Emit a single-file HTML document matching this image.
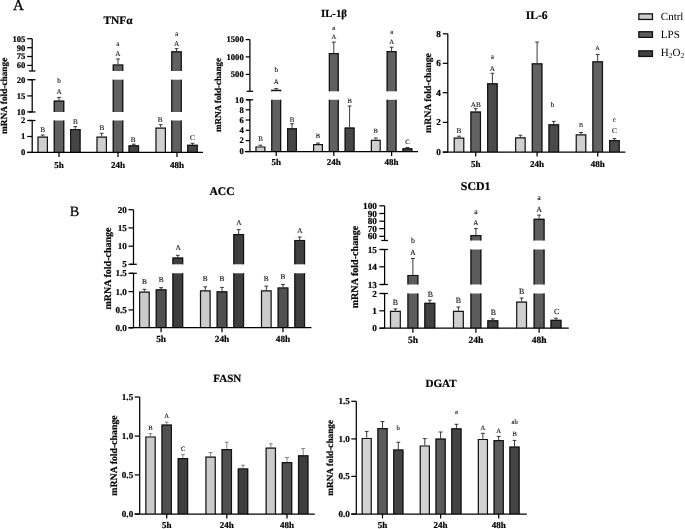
<!DOCTYPE html>
<html lang="en"><head><meta charset="utf-8"><title>Figure</title>
<style>
html,body{margin:0;padding:0;background:#fff;}
body{width:685px;height:529px;overflow:hidden;}
svg{display:block;}
svg text{font-family:"Liberation Serif", "DejaVu Serif", serif;text-rendering:geometricPrecision;}
svg text.l{fill:#111;stroke:#111;stroke-width:0.12px;}
svg text.b{font-weight:bold;stroke:#000;stroke-width:0.2px;}
</style></head><body>
<svg width="685" height="529" viewBox="0 0 685 529">
<rect width="685" height="529" fill="#fff"/>
<g>
<text x="118" y="24.1" font-size="11.4" class="b" text-anchor="middle">TNFα</text>
<path d="M42.7 136.5V135M40.8 135H44.6" stroke="#222" stroke-width="0.9" fill="none"/>
<rect x="37.4" y="136.5" width="10.6" height="15.9" fill="#cfcfcf"/>
<path d="M38 152.4V136.5M47.4 152.4V136.5M37.4 137.1H48" stroke="#141414" stroke-width="1.2" fill="none"/>
<path d="M59 100.6V97.4M57.1 97.4H60.9" stroke="#222" stroke-width="0.9" fill="none"/>
<rect x="53.7" y="100.6" width="10.6" height="11.4" fill="#606060"/>
<path d="M54.3 112V100.6M63.7 112V100.6M53.7 101.2H64.3" stroke="#141414" stroke-width="1.2" fill="none"/>
<rect x="53.7" y="120.5" width="10.6" height="31.9" fill="#606060"/>
<path d="M54.3 152.4V120.5M63.7 152.4V120.5" stroke="#141414" stroke-width="1.2" fill="none"/>
<path d="M75.3 129V126.6M73.4 126.6H77.2" stroke="#222" stroke-width="0.9" fill="none"/>
<rect x="70" y="129" width="10.6" height="23.4" fill="#454545"/>
<path d="M70.6 152.4V129M80 152.4V129M70 129.6H80.6" stroke="#141414" stroke-width="1.2" fill="none"/>
<path d="M101.7 136.6V133.3M99.8 133.3H103.6" stroke="#222" stroke-width="0.9" fill="none"/>
<rect x="96.4" y="136.6" width="10.6" height="15.8" fill="#cfcfcf"/>
<path d="M97 152.4V136.6M106.4 152.4V136.6M96.4 137.2H107" stroke="#141414" stroke-width="1.2" fill="none"/>
<path d="M118 64.4V59M116.1 59H119.9" stroke="#222" stroke-width="0.9" fill="none"/>
<rect x="112.7" y="64.4" width="10.6" height="6.6" fill="#606060"/>
<path d="M113.3 71V64.4M122.7 71V64.4M112.7 65H123.3" stroke="#141414" stroke-width="1.2" fill="none"/>
<rect x="112.7" y="79.7" width="10.6" height="32.3" fill="#606060"/>
<path d="M113.3 112V79.7M122.7 112V79.7" stroke="#141414" stroke-width="1.2" fill="none"/>
<rect x="112.7" y="120.5" width="10.6" height="31.9" fill="#606060"/>
<path d="M113.3 152.4V120.5M122.7 152.4V120.5" stroke="#141414" stroke-width="1.2" fill="none"/>
<path d="M133.8 145.3V144.2M131.9 144.2H135.7" stroke="#222" stroke-width="0.9" fill="none"/>
<rect x="128.5" y="145.3" width="10.6" height="7.1" fill="#454545"/>
<path d="M129.1 152.4V145.3M138.5 152.4V145.3M128.5 145.9H139.1" stroke="#141414" stroke-width="1.2" fill="none"/>
<path d="M160.7 127.6V124.6M158.8 124.6H162.6" stroke="#222" stroke-width="0.9" fill="none"/>
<rect x="155.4" y="127.6" width="10.6" height="24.8" fill="#cfcfcf"/>
<path d="M156 152.4V127.6M165.4 152.4V127.6M155.4 128.2H166" stroke="#141414" stroke-width="1.2" fill="none"/>
<path d="M176.5 51.2V48.7M174.6 48.7H178.4" stroke="#222" stroke-width="0.9" fill="none"/>
<rect x="171.2" y="51.2" width="10.6" height="19.8" fill="#606060"/>
<path d="M171.8 71V51.2M181.2 71V51.2M171.2 51.8H181.8" stroke="#141414" stroke-width="1.2" fill="none"/>
<rect x="171.2" y="79.7" width="10.6" height="32.3" fill="#606060"/>
<path d="M171.8 112V79.7M181.2 112V79.7" stroke="#141414" stroke-width="1.2" fill="none"/>
<rect x="171.2" y="120.5" width="10.6" height="31.9" fill="#606060"/>
<path d="M171.8 152.4V120.5M181.2 152.4V120.5" stroke="#141414" stroke-width="1.2" fill="none"/>
<path d="M192.5 144.8V143.3M190.6 143.3H194.4" stroke="#222" stroke-width="0.9" fill="none"/>
<rect x="187.2" y="144.8" width="10.6" height="7.6" fill="#454545"/>
<path d="M187.8 152.4V144.8M197.2 152.4V144.8M187.2 145.4H197.8" stroke="#141414" stroke-width="1.2" fill="none"/>
<path d="M32.2 38.7V71" stroke="#000" stroke-width="1.25" fill="none"/>
<path d="M28.9 71H35.5" stroke="#000" stroke-width="1.25"/>
<path d="M32.2 79.7V112" stroke="#000" stroke-width="1.25" fill="none"/>
<path d="M28.9 112H35.5" stroke="#000" stroke-width="1.25"/>
<path d="M28.9 79.7H35.5" stroke="#000" stroke-width="1.25"/>
<path d="M32.2 120.5V152.4" stroke="#000" stroke-width="1.25" fill="none"/>
<path d="M28.9 120.5H35.5" stroke="#000" stroke-width="1.25"/>
<path d="M27.2 38.7H32.2" stroke="#000" stroke-width="1.25"/>
<text x="25.4" y="41.54" font-size="8.6" class="b" text-anchor="end">105</text>
<path d="M27.2 47.7H32.2" stroke="#000" stroke-width="1.25"/>
<text x="25.4" y="50.54" font-size="8.6" class="b" text-anchor="end">90</text>
<path d="M27.2 56.5H32.2" stroke="#000" stroke-width="1.25"/>
<text x="25.4" y="59.34" font-size="8.6" class="b" text-anchor="end">75</text>
<path d="M27.2 65.4H32.2" stroke="#000" stroke-width="1.25"/>
<text x="25.4" y="68.24" font-size="8.6" class="b" text-anchor="end">60</text>
<path d="M27.2 79.7H32.2" stroke="#000" stroke-width="1.25"/>
<text x="25.4" y="82.54" font-size="8.6" class="b" text-anchor="end">20</text>
<path d="M27.2 95.9H32.2" stroke="#000" stroke-width="1.25"/>
<text x="25.4" y="98.74" font-size="8.6" class="b" text-anchor="end">15</text>
<path d="M27.2 111.9H32.2" stroke="#000" stroke-width="1.25"/>
<text x="25.4" y="114.74" font-size="8.6" class="b" text-anchor="end">10</text>
<path d="M27.2 120.5H32.2" stroke="#000" stroke-width="1.25"/>
<text x="25.4" y="123.34" font-size="8.6" class="b" text-anchor="end">2</text>
<path d="M27.2 136.5H32.2" stroke="#000" stroke-width="1.25"/>
<text x="25.4" y="139.34" font-size="8.6" class="b" text-anchor="end">1</text>
<path d="M27.2 152.4H32.2" stroke="#000" stroke-width="1.25"/>
<text x="25.4" y="155.24" font-size="8.6" class="b" text-anchor="end">0</text>
<path d="M27.2 152.4H203" stroke="#000" stroke-width="1.25"/>
<path d="M59 152.4V156.9" stroke="#000" stroke-width="1.25"/>
<text x="59" y="167.8" font-size="9" class="b" text-anchor="middle">5h</text>
<path d="M118 152.4V156.9" stroke="#000" stroke-width="1.25"/>
<text x="118" y="167.8" font-size="9" class="b" text-anchor="middle">24h</text>
<path d="M177 152.4V156.9" stroke="#000" stroke-width="1.25"/>
<text x="177" y="167.8" font-size="9" class="b" text-anchor="middle">48h</text>
<text transform="translate(7.39 95.8) rotate(-90)" font-size="9.3" class="b" text-anchor="middle">mRNA fold-change</text>
<text x="42.7" y="132.4" font-size="7.2" text-anchor="middle" class="l">B</text>
<text x="59" y="93.8" font-size="7.2" text-anchor="middle" class="l">A</text>
<text x="59" y="82.8" font-size="7.2" text-anchor="middle" class="l">b</text>
<text x="75.5" y="124.4" font-size="7.2" text-anchor="middle" class="l">B</text>
<text x="101.8" y="129.5" font-size="7.2" text-anchor="middle" class="l">B</text>
<text x="117.8" y="56.4" font-size="7.2" text-anchor="middle" class="l">A</text>
<text x="117.8" y="45.8" font-size="7.2" text-anchor="middle" class="l">a</text>
<text x="133.2" y="141.6" font-size="7.2" text-anchor="middle" class="l">B</text>
<text x="160.1" y="121.6" font-size="7.2" text-anchor="middle" class="l">B</text>
<text x="176.6" y="46" font-size="7.2" text-anchor="middle" class="l">A</text>
<text x="176.6" y="36" font-size="7.2" text-anchor="middle" class="l">a</text>
<text x="192.5" y="140.4" font-size="7.2" text-anchor="middle" class="l">C</text>
</g>
<g>
<text x="334" y="17" font-size="10.8" class="b" text-anchor="middle">IL-1β</text>
<path d="M260.4 146.4V145.2M258.5 145.2H262.3" stroke="#222" stroke-width="0.9" fill="none"/>
<rect x="255.4" y="146.4" width="10" height="5.1" fill="#cfcfcf"/>
<path d="M256 151.5V146.4M264.8 151.5V146.4M255.4 147H265.4" stroke="#141414" stroke-width="1.2" fill="none"/>
<path d="M276.2 89.8V88.6M274.3 88.6H278.1" stroke="#222" stroke-width="0.9" fill="none"/>
<rect x="271.2" y="89.8" width="10" height="1.5" fill="#606060"/>
<path d="M271.8 91.3V89.8M280.6 91.3V89.8M271.2 90.4H281.2" stroke="#141414" stroke-width="1.2" fill="none"/>
<rect x="271.2" y="99.8" width="10" height="51.7" fill="#606060"/>
<path d="M271.8 151.5V99.8M280.6 151.5V99.8" stroke="#141414" stroke-width="1.2" fill="none"/>
<path d="M292 128.2V123.7M290.1 123.7H293.9" stroke="#222" stroke-width="0.9" fill="none"/>
<rect x="287" y="128.2" width="10" height="23.3" fill="#464646"/>
<path d="M287.6 151.5V128.2M296.4 151.5V128.2M287 128.8H297" stroke="#141414" stroke-width="1.2" fill="none"/>
<path d="M318 144.1V143.1M316.1 143.1H319.9" stroke="#222" stroke-width="0.9" fill="none"/>
<rect x="313" y="144.1" width="10" height="7.4" fill="#cfcfcf"/>
<path d="M313.6 151.5V144.1M322.4 151.5V144.1M313 144.7H323" stroke="#141414" stroke-width="1.2" fill="none"/>
<path d="M333.8 53V42.1M331.9 42.1H335.7" stroke="#222" stroke-width="0.9" fill="none"/>
<rect x="328.8" y="53" width="10" height="38.3" fill="#606060"/>
<path d="M329.4 91.3V53M338.2 91.3V53M328.8 53.6H338.8" stroke="#141414" stroke-width="1.2" fill="none"/>
<rect x="328.8" y="99.8" width="10" height="51.7" fill="#606060"/>
<path d="M329.4 151.5V99.8M338.2 151.5V99.8" stroke="#141414" stroke-width="1.2" fill="none"/>
<path d="M349.6 127.5V106M347.7 106H351.5" stroke="#222" stroke-width="0.9" fill="none"/>
<rect x="344.6" y="127.5" width="10" height="24" fill="#464646"/>
<path d="M345.2 151.5V127.5M354 151.5V127.5M344.6 128.1H354.6" stroke="#141414" stroke-width="1.2" fill="none"/>
<path d="M375.8 139.7V138M373.9 138H377.7" stroke="#222" stroke-width="0.9" fill="none"/>
<rect x="370.8" y="139.7" width="10" height="11.8" fill="#cfcfcf"/>
<path d="M371.4 151.5V139.7M380.2 151.5V139.7M370.8 140.3H380.8" stroke="#141414" stroke-width="1.2" fill="none"/>
<path d="M391.6 51V47.2M389.7 47.2H393.5" stroke="#222" stroke-width="0.9" fill="none"/>
<rect x="386.6" y="51" width="10" height="40.3" fill="#606060"/>
<path d="M387.2 91.3V51M396 91.3V51M386.6 51.6H396.6" stroke="#141414" stroke-width="1.2" fill="none"/>
<rect x="386.6" y="99.8" width="10" height="51.7" fill="#606060"/>
<path d="M387.2 151.5V99.8M396 151.5V99.8" stroke="#141414" stroke-width="1.2" fill="none"/>
<path d="M407.4 148.2V147.5M405.5 147.5H409.3" stroke="#222" stroke-width="0.9" fill="none"/>
<rect x="402.4" y="148.2" width="10" height="3.3" fill="#464646"/>
<path d="M403 151.5V148.2M411.8 151.5V148.2M402.4 148.8H412.4" stroke="#141414" stroke-width="1.2" fill="none"/>
<path d="M249.9 39.6V91.3" stroke="#000" stroke-width="1.25" fill="none"/>
<path d="M246.6 91.3H253.2" stroke="#000" stroke-width="1.25"/>
<path d="M249.9 99.8V151.5" stroke="#000" stroke-width="1.25" fill="none"/>
<path d="M246.6 99.8H253.2" stroke="#000" stroke-width="1.25"/>
<path d="M245.7 39.6H249.9" stroke="#000" stroke-width="1.25"/>
<text x="243.7" y="42.44" font-size="8.6" class="b" text-anchor="end">1500</text>
<path d="M245.7 56.9H249.9" stroke="#000" stroke-width="1.25"/>
<text x="243.7" y="59.74" font-size="8.6" class="b" text-anchor="end">1000</text>
<path d="M245.7 74.4H249.9" stroke="#000" stroke-width="1.25"/>
<text x="243.7" y="77.24" font-size="8.6" class="b" text-anchor="end">500</text>
<path d="M245.7 99.8H249.9" stroke="#000" stroke-width="1.25"/>
<text x="243.7" y="102.64" font-size="8.6" class="b" text-anchor="end">10</text>
<path d="M245.7 109.8H249.9" stroke="#000" stroke-width="1.25"/>
<text x="243.7" y="112.64" font-size="8.6" class="b" text-anchor="end">8</text>
<path d="M245.7 120H249.9" stroke="#000" stroke-width="1.25"/>
<text x="243.7" y="122.84" font-size="8.6" class="b" text-anchor="end">6</text>
<path d="M245.7 130.3H249.9" stroke="#000" stroke-width="1.25"/>
<text x="243.7" y="133.14" font-size="8.6" class="b" text-anchor="end">4</text>
<path d="M245.7 140.6H249.9" stroke="#000" stroke-width="1.25"/>
<text x="243.7" y="143.44" font-size="8.6" class="b" text-anchor="end">2</text>
<path d="M245.7 151.5H249.9" stroke="#000" stroke-width="1.25"/>
<text x="243.7" y="154.34" font-size="8.6" class="b" text-anchor="end">0</text>
<path d="M244.9 151.5H418" stroke="#000" stroke-width="1.25"/>
<path d="M276.2 151.5V156" stroke="#000" stroke-width="1.25"/>
<text x="276.2" y="165" font-size="9" class="b" text-anchor="middle">5h</text>
<path d="M333.8 151.5V156" stroke="#000" stroke-width="1.25"/>
<text x="333.8" y="165" font-size="9" class="b" text-anchor="middle">24h</text>
<path d="M391.6 151.5V156" stroke="#000" stroke-width="1.25"/>
<text x="391.6" y="165" font-size="9" class="b" text-anchor="middle">48h</text>
<text transform="translate(221.42 95) rotate(-90)" font-size="9.06" class="b" text-anchor="middle">mRNA fold-change</text>
<text x="260.5" y="141.4" font-size="7" text-anchor="middle" class="l">B</text>
<text x="276.2" y="84.2" font-size="7" text-anchor="middle" class="l">A</text>
<text x="276.2" y="71.8" font-size="7.2" text-anchor="middle" class="l">b</text>
<text x="292" y="121.7" font-size="7" text-anchor="middle" class="l">B</text>
<text x="318" y="138.1" font-size="6.6" text-anchor="middle" class="l">B</text>
<text x="333.8" y="38.8" font-size="6.6" text-anchor="middle" class="l">A</text>
<text x="333.8" y="29.6" font-size="6.6" text-anchor="middle" class="l">a</text>
<text x="349.7" y="103.4" font-size="6.6" text-anchor="middle" class="l">B</text>
<text x="375.8" y="133" font-size="6.6" text-anchor="middle" class="l">B</text>
<text x="391.6" y="43.6" font-size="6.6" text-anchor="middle" class="l">A</text>
<text x="391.6" y="33.7" font-size="6.6" text-anchor="middle" class="l">a</text>
<text x="407.5" y="144.2" font-size="6.6" text-anchor="middle" class="l">C</text>
</g>
<g>
<text x="536.7" y="18.7" font-size="11.6" class="b" text-anchor="middle">IL-6</text>
<path d="M459 137.5V136.2M457.1 136.2H460.9" stroke="#222" stroke-width="0.9" fill="none"/>
<rect x="453.65" y="137.5" width="10.7" height="14.6" fill="#d0d0d0"/>
<path d="M454.25 152.1V137.5M463.75 152.1V137.5M453.65 138.1H464.35" stroke="#141414" stroke-width="1.2" fill="none"/>
<path d="M475.7 111.5V108.6M473.8 108.6H477.6" stroke="#222" stroke-width="0.9" fill="none"/>
<rect x="470.35" y="111.5" width="10.7" height="40.6" fill="#626262"/>
<path d="M470.95 152.1V111.5M480.45 152.1V111.5M470.35 112.1H481.05" stroke="#141414" stroke-width="1.2" fill="none"/>
<path d="M492.4 83.2V73.3M490.5 73.3H494.3" stroke="#222" stroke-width="0.9" fill="none"/>
<rect x="487.05" y="83.2" width="10.7" height="68.9" fill="#4a4a4a"/>
<path d="M487.65 152.1V83.2M497.15 152.1V83.2M487.05 83.8H497.75" stroke="#141414" stroke-width="1.2" fill="none"/>
<path d="M520.4 137.2V135.2M518.5 135.2H522.3" stroke="#222" stroke-width="0.9" fill="none"/>
<rect x="515.05" y="137.2" width="10.7" height="14.9" fill="#d0d0d0"/>
<path d="M515.65 152.1V137.2M525.15 152.1V137.2M515.05 137.8H525.75" stroke="#141414" stroke-width="1.2" fill="none"/>
<path d="M537.1 63.3V42.1M535.2 42.1H539" stroke="#222" stroke-width="0.9" fill="none"/>
<rect x="531.75" y="63.3" width="10.7" height="88.8" fill="#626262"/>
<path d="M532.35 152.1V63.3M541.85 152.1V63.3M531.75 63.9H542.45" stroke="#141414" stroke-width="1.2" fill="none"/>
<path d="M553.8 124.3V121.4M551.9 121.4H555.7" stroke="#222" stroke-width="0.9" fill="none"/>
<rect x="548.45" y="124.3" width="10.7" height="27.8" fill="#4a4a4a"/>
<path d="M549.05 152.1V124.3M558.55 152.1V124.3M548.45 124.9H559.15" stroke="#141414" stroke-width="1.2" fill="none"/>
<path d="M581 134.2V132.5M579.1 132.5H582.9" stroke="#222" stroke-width="0.9" fill="none"/>
<rect x="575.65" y="134.2" width="10.7" height="17.9" fill="#d0d0d0"/>
<path d="M576.25 152.1V134.2M585.75 152.1V134.2M575.65 134.8H586.35" stroke="#141414" stroke-width="1.2" fill="none"/>
<path d="M597.7 61.3V54.5M595.8 54.5H599.6" stroke="#222" stroke-width="0.9" fill="none"/>
<rect x="592.35" y="61.3" width="10.7" height="90.8" fill="#626262"/>
<path d="M592.95 152.1V61.3M602.45 152.1V61.3M592.35 61.9H603.05" stroke="#141414" stroke-width="1.2" fill="none"/>
<path d="M614.4 140V138.6M612.5 138.6H616.3" stroke="#222" stroke-width="0.9" fill="none"/>
<rect x="609.05" y="140" width="10.7" height="12.1" fill="#4a4a4a"/>
<path d="M609.65 152.1V140M619.15 152.1V140M609.05 140.6H619.75" stroke="#141414" stroke-width="1.2" fill="none"/>
<path d="M447.8 33.8V152.1" stroke="#000" stroke-width="1.25" fill="none"/>
<path d="M442.8 33.8H447.8" stroke="#000" stroke-width="1.25"/>
<text x="440.8" y="36.84" font-size="9.2" class="b" text-anchor="end">8</text>
<path d="M442.8 63.3H447.8" stroke="#000" stroke-width="1.25"/>
<text x="440.8" y="66.34" font-size="9.2" class="b" text-anchor="end">6</text>
<path d="M442.8 92.7H447.8" stroke="#000" stroke-width="1.25"/>
<text x="440.8" y="95.74" font-size="9.2" class="b" text-anchor="end">4</text>
<path d="M442.8 122.4H447.8" stroke="#000" stroke-width="1.25"/>
<text x="440.8" y="125.44" font-size="9.2" class="b" text-anchor="end">2</text>
<path d="M442.8 152.1H447.8" stroke="#000" stroke-width="1.25"/>
<text x="440.8" y="155.14" font-size="9.2" class="b" text-anchor="end">0</text>
<path d="M442.8 152.1H625.4" stroke="#000" stroke-width="1.25"/>
<path d="M475.7 152.1V156.6" stroke="#000" stroke-width="1.25"/>
<text x="475.7" y="167.2" font-size="9" class="b" text-anchor="middle">5h</text>
<path d="M537.1 152.1V156.6" stroke="#000" stroke-width="1.25"/>
<text x="537.1" y="167.2" font-size="9" class="b" text-anchor="middle">24h</text>
<path d="M597.7 152.1V156.6" stroke="#000" stroke-width="1.25"/>
<text x="597.7" y="167.2" font-size="9" class="b" text-anchor="middle">48h</text>
<text transform="translate(431.42 93) rotate(-90)" font-size="9.74" class="b" text-anchor="middle">mRNA fold-change</text>
<text x="459" y="132.7" font-size="7.2" text-anchor="middle" class="l">B</text>
<text x="475.7" y="106.8" font-size="7.2" text-anchor="middle" class="l">AB</text>
<text x="492.3" y="71.4" font-size="7.2" text-anchor="middle" class="l">A</text>
<text x="492.3" y="58.9" font-size="7.2" text-anchor="middle" class="l">a</text>
<text x="552.6" y="107.1" font-size="7.2" text-anchor="middle" class="l">b</text>
<text x="581" y="127.4" font-size="6.2" text-anchor="middle" class="l">B</text>
<text x="597.5" y="50.1" font-size="6.2" text-anchor="middle" class="l">A</text>
<text x="614.3" y="132.9" font-size="7.2" text-anchor="middle" class="l">C</text>
<text x="614.3" y="121.7" font-size="7.2" text-anchor="middle" class="l">c</text>
</g>
<g>
<text x="222" y="195" font-size="11.6" class="b" text-anchor="middle">ACC</text>
<path d="M144.4 291.6V289.3M142.5 289.3H146.3" stroke="#222" stroke-width="0.9" fill="none"/>
<rect x="139" y="291.6" width="10.8" height="36.3" fill="#cbcbcb"/>
<path d="M139.6 327.9V291.6M149.2 327.9V291.6M139 292.2H149.8" stroke="#141414" stroke-width="1.2" fill="none"/>
<path d="M161.1 289.3V287.7M159.2 287.7H163" stroke="#222" stroke-width="0.9" fill="none"/>
<rect x="155.7" y="289.3" width="10.8" height="38.6" fill="#505050"/>
<path d="M156.3 327.9V289.3M165.9 327.9V289.3M155.7 289.9H166.5" stroke="#141414" stroke-width="1.2" fill="none"/>
<path d="M177.8 257.5V255.3M175.9 255.3H179.7" stroke="#222" stroke-width="0.9" fill="none"/>
<rect x="172.4" y="257.5" width="10.8" height="6.8" fill="#3e3e3e"/>
<path d="M173 264.3V257.5M182.6 264.3V257.5M172.4 258.1H183.2" stroke="#141414" stroke-width="1.2" fill="none"/>
<rect x="172.4" y="273.3" width="10.8" height="54.6" fill="#3e3e3e"/>
<path d="M173 327.9V273.3M182.6 327.9V273.3" stroke="#141414" stroke-width="1.2" fill="none"/>
<path d="M205.3 290.3V286.8M203.4 286.8H207.2" stroke="#222" stroke-width="0.9" fill="none"/>
<rect x="199.9" y="290.3" width="10.8" height="37.6" fill="#cbcbcb"/>
<path d="M200.5 327.9V290.3M210.1 327.9V290.3M199.9 290.9H210.7" stroke="#141414" stroke-width="1.2" fill="none"/>
<path d="M222 291.2V287.4M220.1 287.4H223.9" stroke="#222" stroke-width="0.9" fill="none"/>
<rect x="216.6" y="291.2" width="10.8" height="36.7" fill="#505050"/>
<path d="M217.2 327.9V291.2M226.8 327.9V291.2M216.6 291.8H227.4" stroke="#141414" stroke-width="1.2" fill="none"/>
<path d="M238.7 234.1V229.6M236.8 229.6H240.6" stroke="#222" stroke-width="0.9" fill="none"/>
<rect x="233.3" y="234.1" width="10.8" height="30.2" fill="#3e3e3e"/>
<path d="M233.9 264.3V234.1M243.5 264.3V234.1M233.3 234.7H244.1" stroke="#141414" stroke-width="1.2" fill="none"/>
<rect x="233.3" y="273.3" width="10.8" height="54.6" fill="#3e3e3e"/>
<path d="M233.9 327.9V273.3M243.5 327.9V273.3" stroke="#141414" stroke-width="1.2" fill="none"/>
<path d="M266.3 290.3V286.1M264.4 286.1H268.2" stroke="#222" stroke-width="0.9" fill="none"/>
<rect x="260.9" y="290.3" width="10.8" height="37.6" fill="#cbcbcb"/>
<path d="M261.5 327.9V290.3M271.1 327.9V290.3M260.9 290.9H271.7" stroke="#141414" stroke-width="1.2" fill="none"/>
<path d="M283 287.4V284.5M281.1 284.5H284.9" stroke="#222" stroke-width="0.9" fill="none"/>
<rect x="277.6" y="287.4" width="10.8" height="40.5" fill="#505050"/>
<path d="M278.2 327.9V287.4M287.8 327.9V287.4M277.6 288H288.4" stroke="#141414" stroke-width="1.2" fill="none"/>
<path d="M299.7 239.9V237M297.8 237H301.6" stroke="#222" stroke-width="0.9" fill="none"/>
<rect x="294.3" y="239.9" width="10.8" height="24.4" fill="#3e3e3e"/>
<path d="M294.9 264.3V239.9M304.5 264.3V239.9M294.3 240.5H305.1" stroke="#141414" stroke-width="1.2" fill="none"/>
<rect x="294.3" y="273.3" width="10.8" height="54.6" fill="#3e3e3e"/>
<path d="M294.9 327.9V273.3M304.5 327.9V273.3" stroke="#141414" stroke-width="1.2" fill="none"/>
<path d="M133.5 209.7V264.3" stroke="#000" stroke-width="1.25" fill="none"/>
<path d="M130.2 264.3H136.8" stroke="#000" stroke-width="1.25"/>
<path d="M133.5 273.3V327.9" stroke="#000" stroke-width="1.25" fill="none"/>
<path d="M130.2 273.3H136.8" stroke="#000" stroke-width="1.25"/>
<path d="M128.5 209.7H133.5" stroke="#000" stroke-width="1.25"/>
<text x="126.8" y="212.7" font-size="9.1" class="b" text-anchor="end">20</text>
<path d="M128.5 227.9H133.5" stroke="#000" stroke-width="1.25"/>
<text x="126.8" y="230.9" font-size="9.1" class="b" text-anchor="end">15</text>
<path d="M128.5 246.2H133.5" stroke="#000" stroke-width="1.25"/>
<text x="126.8" y="249.2" font-size="9.1" class="b" text-anchor="end">10</text>
<path d="M128.5 264.3H133.5" stroke="#000" stroke-width="1.25"/>
<text x="126.8" y="267.3" font-size="9.1" class="b" text-anchor="end">5</text>
<path d="M128.5 273.3H133.5" stroke="#000" stroke-width="1.25"/>
<text x="126.8" y="276.3" font-size="9.1" class="b" text-anchor="end">1.5</text>
<path d="M128.5 291.6H133.5" stroke="#000" stroke-width="1.25"/>
<text x="126.8" y="294.6" font-size="9.1" class="b" text-anchor="end">1.0</text>
<path d="M128.5 309.9H133.5" stroke="#000" stroke-width="1.25"/>
<text x="126.8" y="312.9" font-size="9.1" class="b" text-anchor="end">0.5</text>
<path d="M128.5 327.9H133.5" stroke="#000" stroke-width="1.25"/>
<text x="126.8" y="330.9" font-size="9.1" class="b" text-anchor="end">0.0</text>
<path d="M128.5 327.7H311.4" stroke="#000" stroke-width="1.25"/>
<path d="M161.1 327.7V332.2" stroke="#000" stroke-width="1.25"/>
<text x="161.1" y="341.7" font-size="9.3" class="b" text-anchor="middle">5h</text>
<path d="M222 327.7V332.2" stroke="#000" stroke-width="1.25"/>
<text x="222" y="341.7" font-size="9.3" class="b" text-anchor="middle">24h</text>
<path d="M283 327.7V332.2" stroke="#000" stroke-width="1.25"/>
<text x="283" y="341.7" font-size="9.3" class="b" text-anchor="middle">48h</text>
<text transform="translate(110.5 268.5) rotate(-90)" font-size="10" class="b" text-anchor="middle">mRNA fold-change</text>
<text x="144.5" y="283.6" font-size="7.4" text-anchor="middle" class="l">B</text>
<text x="161.3" y="281.7" font-size="7.4" text-anchor="middle" class="l">B</text>
<text x="178.2" y="249.9" font-size="7.4" text-anchor="middle" class="l">A</text>
<text x="205.1" y="281.4" font-size="7.4" text-anchor="middle" class="l">B</text>
<text x="222" y="281.4" font-size="7.4" text-anchor="middle" class="l">B</text>
<text x="238.9" y="225.2" font-size="7.4" text-anchor="middle" class="l">A</text>
<text x="266.1" y="281.4" font-size="7.4" text-anchor="middle" class="l">B</text>
<text x="283" y="279.1" font-size="7.4" text-anchor="middle" class="l">B</text>
<text x="299.9" y="233.2" font-size="7.4" text-anchor="middle" class="l">A</text>
</g>
<g>
<text x="475.7" y="190" font-size="11.9" class="b" text-anchor="middle">SCD1</text>
<path d="M395.4 310.8V308.9M393.5 308.9H397.3" stroke="#222" stroke-width="0.9" fill="none"/>
<rect x="389.9" y="310.8" width="11" height="17.4" fill="#cfcfcf"/>
<path d="M390.5 328.2V310.8M400.3 328.2V310.8M389.9 311.4H400.9" stroke="#141414" stroke-width="1.2" fill="none"/>
<path d="M412.9 274.9V258.5M411 258.5H414.8" stroke="#222" stroke-width="0.9" fill="none"/>
<rect x="407.4" y="274.9" width="11" height="9.6" fill="#5c5c5c"/>
<path d="M408 284.5V274.9M417.8 284.5V274.9M407.4 275.5H418.4" stroke="#141414" stroke-width="1.2" fill="none"/>
<rect x="407.4" y="293.5" width="11" height="34.7" fill="#5c5c5c"/>
<path d="M408 328.2V293.5M417.8 328.2V293.5" stroke="#141414" stroke-width="1.2" fill="none"/>
<path d="M429.8 302.8V300.2M427.9 300.2H431.7" stroke="#222" stroke-width="0.9" fill="none"/>
<rect x="424.3" y="302.8" width="11" height="25.4" fill="#414141"/>
<path d="M424.9 328.2V302.8M434.7 328.2V302.8M424.3 303.4H435.3" stroke="#141414" stroke-width="1.2" fill="none"/>
<path d="M458.4 310.8V307M456.5 307H460.3" stroke="#222" stroke-width="0.9" fill="none"/>
<rect x="452.9" y="310.8" width="11" height="17.4" fill="#cfcfcf"/>
<path d="M453.5 328.2V310.8M463.3 328.2V310.8M452.9 311.4H463.9" stroke="#141414" stroke-width="1.2" fill="none"/>
<path d="M475.9 235V228.6M474 228.6H477.8" stroke="#222" stroke-width="0.9" fill="none"/>
<rect x="470.4" y="235" width="11" height="5.5" fill="#5c5c5c"/>
<path d="M471 240.5V235M480.8 240.5V235M470.4 235.6H481.4" stroke="#141414" stroke-width="1.2" fill="none"/>
<rect x="470.4" y="249.5" width="11" height="35" fill="#5c5c5c"/>
<path d="M471 284.5V249.5M480.8 284.5V249.5" stroke="#141414" stroke-width="1.2" fill="none"/>
<rect x="470.4" y="293.5" width="11" height="34.7" fill="#5c5c5c"/>
<path d="M471 328.2V293.5M480.8 328.2V293.5" stroke="#141414" stroke-width="1.2" fill="none"/>
<path d="M492.8 320.2V318.9M490.9 318.9H494.7" stroke="#222" stroke-width="0.9" fill="none"/>
<rect x="487.3" y="320.2" width="11" height="8" fill="#414141"/>
<path d="M487.9 328.2V320.2M497.7 328.2V320.2M487.3 320.8H498.3" stroke="#141414" stroke-width="1.2" fill="none"/>
<path d="M521.6 301.5V298M519.7 298H523.5" stroke="#222" stroke-width="0.9" fill="none"/>
<rect x="516.1" y="301.5" width="11" height="26.7" fill="#cfcfcf"/>
<path d="M516.7 328.2V301.5M526.5 328.2V301.5M516.1 302.1H527.1" stroke="#141414" stroke-width="1.2" fill="none"/>
<path d="M539.1 218.7V215.1M537.2 215.1H541" stroke="#222" stroke-width="0.9" fill="none"/>
<rect x="533.6" y="218.7" width="11" height="21.8" fill="#5c5c5c"/>
<path d="M534.2 240.5V218.7M544 240.5V218.7M533.6 219.3H544.6" stroke="#141414" stroke-width="1.2" fill="none"/>
<rect x="533.6" y="249.5" width="11" height="35" fill="#5c5c5c"/>
<path d="M534.2 284.5V249.5M544 284.5V249.5" stroke="#141414" stroke-width="1.2" fill="none"/>
<rect x="533.6" y="293.5" width="11" height="34.7" fill="#5c5c5c"/>
<path d="M534.2 328.2V293.5M544 328.2V293.5" stroke="#141414" stroke-width="1.2" fill="none"/>
<path d="M556 319.8V318.2M554.1 318.2H557.9" stroke="#222" stroke-width="0.9" fill="none"/>
<rect x="550.5" y="319.8" width="11" height="8.4" fill="#414141"/>
<path d="M551.1 328.2V319.8M560.9 328.2V319.8M550.5 320.4H561.5" stroke="#141414" stroke-width="1.2" fill="none"/>
<path d="M384.6 205.8V240.5" stroke="#000" stroke-width="1.25" fill="none"/>
<path d="M381.3 240.5H387.9" stroke="#000" stroke-width="1.25"/>
<path d="M384.6 249.5V284.5" stroke="#000" stroke-width="1.25" fill="none"/>
<path d="M381.3 284.5H387.9" stroke="#000" stroke-width="1.25"/>
<path d="M381.3 249.5H387.9" stroke="#000" stroke-width="1.25"/>
<path d="M384.6 293.5V328.2" stroke="#000" stroke-width="1.25" fill="none"/>
<path d="M381.3 293.5H387.9" stroke="#000" stroke-width="1.25"/>
<path d="M379.3 205.8H384.6" stroke="#000" stroke-width="1.25"/>
<text x="376.9" y="208.84" font-size="9.2" class="b" text-anchor="end">100</text>
<path d="M379.3 213.5H384.6" stroke="#000" stroke-width="1.25"/>
<text x="376.9" y="216.54" font-size="9.2" class="b" text-anchor="end">90</text>
<path d="M379.3 221.2H384.6" stroke="#000" stroke-width="1.25"/>
<text x="376.9" y="224.24" font-size="9.2" class="b" text-anchor="end">80</text>
<path d="M379.3 228.6H384.6" stroke="#000" stroke-width="1.25"/>
<text x="376.9" y="231.64" font-size="9.2" class="b" text-anchor="end">70</text>
<path d="M379.3 236.3H384.6" stroke="#000" stroke-width="1.25"/>
<text x="376.9" y="239.34" font-size="9.2" class="b" text-anchor="end">60</text>
<path d="M379.3 249.5H384.6" stroke="#000" stroke-width="1.25"/>
<text x="376.9" y="252.54" font-size="9.2" class="b" text-anchor="end">15</text>
<path d="M379.3 266.8H384.6" stroke="#000" stroke-width="1.25"/>
<text x="376.9" y="269.84" font-size="9.2" class="b" text-anchor="end">14</text>
<path d="M379.3 284.5H384.6" stroke="#000" stroke-width="1.25"/>
<text x="376.9" y="287.54" font-size="9.2" class="b" text-anchor="end">13</text>
<path d="M379.3 293.5H384.6" stroke="#000" stroke-width="1.25"/>
<text x="376.9" y="296.54" font-size="9.2" class="b" text-anchor="end">2</text>
<path d="M379.3 310.8H384.6" stroke="#000" stroke-width="1.25"/>
<text x="376.9" y="313.84" font-size="9.2" class="b" text-anchor="end">1</text>
<path d="M379.3 328.2H384.6" stroke="#000" stroke-width="1.25"/>
<text x="376.9" y="331.24" font-size="9.2" class="b" text-anchor="end">0</text>
<path d="M379.6 328.2H568.8" stroke="#000" stroke-width="1.25"/>
<path d="M412.9 328.2V332.7" stroke="#000" stroke-width="1.25"/>
<text x="412.9" y="343" font-size="9.5" class="b" text-anchor="middle">5h</text>
<path d="M475.9 328.2V332.7" stroke="#000" stroke-width="1.25"/>
<text x="475.9" y="343" font-size="9.5" class="b" text-anchor="middle">24h</text>
<path d="M539.1 328.2V332.7" stroke="#000" stroke-width="1.25"/>
<text x="539.1" y="343" font-size="9.5" class="b" text-anchor="middle">48h</text>
<text transform="translate(357.53 267) rotate(-90)" font-size="10.1" class="b" text-anchor="middle">mRNA fold-change</text>
<text x="395.4" y="304.8" font-size="7.9" text-anchor="middle" class="l">B</text>
<text x="412.9" y="255.4" font-size="7.9" text-anchor="middle" class="l">A</text>
<text x="412.9" y="243.2" font-size="7.9" text-anchor="middle" class="l">b</text>
<text x="430.4" y="296.8" font-size="7.9" text-anchor="middle" class="l">B</text>
<text x="458.4" y="302.9" font-size="7.9" text-anchor="middle" class="l">B</text>
<text x="475.9" y="224.7" font-size="7" text-anchor="middle" class="l">A</text>
<text x="475.9" y="213.8" font-size="7.6" text-anchor="middle" class="l">a</text>
<text x="493.4" y="315.4" font-size="7.9" text-anchor="middle" class="l">B</text>
<text x="521.6" y="294.2" font-size="7.9" text-anchor="middle" class="l">B</text>
<text x="539.1" y="211.7" font-size="7.9" text-anchor="middle" class="l">A</text>
<text x="539.1" y="200.4" font-size="7.9" text-anchor="middle" class="l">a</text>
<text x="556.6" y="314.1" font-size="7.9" text-anchor="middle" class="l">C</text>
</g>
<g>
<text x="227.3" y="382.3" font-size="11" class="b" text-anchor="middle">FASN</text>
<path d="M150.5 436.4V433.6M148.6 433.6H152.4" stroke="#555" stroke-width="0.7" fill="none"/>
<rect x="145.25" y="436.4" width="10.5" height="77.6" fill="#cbcbcb"/>
<path d="M145.85 514V436.4M155.15 514V436.4M145.25 437H155.75" stroke="#141414" stroke-width="1.2" fill="none"/>
<path d="M166.7 424.6V422.1M164.8 422.1H168.6" stroke="#555" stroke-width="0.7" fill="none"/>
<rect x="161.45" y="424.6" width="10.5" height="89.4" fill="#505050"/>
<path d="M162.05 514V424.6M171.35 514V424.6M161.45 425.2H171.95" stroke="#141414" stroke-width="1.2" fill="none"/>
<path d="M182.9 458.1V454.7M181 454.7H184.8" stroke="#555" stroke-width="0.7" fill="none"/>
<rect x="177.65" y="458.1" width="10.5" height="55.9" fill="#3e3e3e"/>
<path d="M178.25 514V458.1M187.55 514V458.1M177.65 458.7H188.15" stroke="#141414" stroke-width="1.2" fill="none"/>
<path d="M210.6 456.6V452.5M208.7 452.5H212.5" stroke="#555" stroke-width="0.7" fill="none"/>
<rect x="205.35" y="456.6" width="10.5" height="57.4" fill="#cbcbcb"/>
<path d="M205.95 514V456.6M215.25 514V456.6M205.35 457.2H215.85" stroke="#141414" stroke-width="1.2" fill="none"/>
<path d="M226.8 449.1V442.3M224.9 442.3H228.7" stroke="#555" stroke-width="0.7" fill="none"/>
<rect x="221.55" y="449.1" width="10.5" height="64.9" fill="#505050"/>
<path d="M222.15 514V449.1M231.45 514V449.1M221.55 449.7H232.05" stroke="#141414" stroke-width="1.2" fill="none"/>
<path d="M243 468.4V465.2M241.1 465.2H244.9" stroke="#555" stroke-width="0.7" fill="none"/>
<rect x="237.75" y="468.4" width="10.5" height="45.6" fill="#3e3e3e"/>
<path d="M238.35 514V468.4M247.65 514V468.4M237.75 469H248.25" stroke="#141414" stroke-width="1.2" fill="none"/>
<path d="M270.8 447.6V443.8M268.9 443.8H272.7" stroke="#555" stroke-width="0.7" fill="none"/>
<rect x="265.55" y="447.6" width="10.5" height="66.4" fill="#cbcbcb"/>
<path d="M266.15 514V447.6M275.45 514V447.6M265.55 448.2H276.05" stroke="#141414" stroke-width="1.2" fill="none"/>
<path d="M287 462.1V457.5M285.1 457.5H288.9" stroke="#555" stroke-width="0.7" fill="none"/>
<rect x="281.75" y="462.1" width="10.5" height="51.9" fill="#505050"/>
<path d="M282.35 514V462.1M291.65 514V462.1M281.75 462.7H292.25" stroke="#141414" stroke-width="1.2" fill="none"/>
<path d="M303.2 455.3V448.5M301.3 448.5H305.1" stroke="#555" stroke-width="0.7" fill="none"/>
<rect x="297.95" y="455.3" width="10.5" height="58.7" fill="#3e3e3e"/>
<path d="M298.55 514V455.3M307.85 514V455.3M297.95 455.9H308.45" stroke="#141414" stroke-width="1.2" fill="none"/>
<path d="M139.7 397V514" stroke="#000" stroke-width="1.25" fill="none"/>
<path d="M134.7 397H139.7" stroke="#000" stroke-width="1.25"/>
<text x="133.2" y="400" font-size="9.1" class="b" text-anchor="end">1.5</text>
<path d="M134.7 436.1H139.7" stroke="#000" stroke-width="1.25"/>
<text x="133.2" y="439.1" font-size="9.1" class="b" text-anchor="end">1.0</text>
<path d="M134.7 474.9H139.7" stroke="#000" stroke-width="1.25"/>
<text x="133.2" y="477.9" font-size="9.1" class="b" text-anchor="end">0.5</text>
<path d="M134.7 514H139.7" stroke="#000" stroke-width="1.25"/>
<text x="133.2" y="517" font-size="9.1" class="b" text-anchor="end">0.0</text>
<path d="M134.7 514H314.8" stroke="#000" stroke-width="1.25"/>
<path d="M166.7 514V518.5" stroke="#000" stroke-width="1.25"/>
<text x="166.7" y="527.6" font-size="9" class="b" text-anchor="middle">5h</text>
<path d="M226.8 514V518.5" stroke="#000" stroke-width="1.25"/>
<text x="226.8" y="527.6" font-size="9" class="b" text-anchor="middle">24h</text>
<path d="M287 514V518.5" stroke="#000" stroke-width="1.25"/>
<text x="287" y="527.6" font-size="9" class="b" text-anchor="middle">48h</text>
<text transform="translate(116.54 455.5) rotate(-90)" font-size="9.8" class="b" text-anchor="middle">mRNA fold-change</text>
<text x="150.5" y="430" font-size="6.6" text-anchor="middle" class="l">B</text>
<text x="166.7" y="418.2" font-size="6.6" text-anchor="middle" class="l">A</text>
<text x="183" y="451.4" font-size="6.6" text-anchor="middle" class="l">C</text>
</g>
<g>
<text x="441" y="386.7" font-size="11.1" class="b" text-anchor="middle">DGAT</text>
<path d="M366.7 437.9V431.4M364.8 431.4H368.6" stroke="#222" stroke-width="0.9" fill="none"/>
<rect x="361.55" y="437.9" width="10.3" height="76.1" fill="#d2d2d2"/>
<path d="M362.15 514V437.9M371.25 514V437.9M361.55 438.5H371.85" stroke="#141414" stroke-width="1.2" fill="none"/>
<path d="M382.5 428V421.5M380.6 421.5H384.4" stroke="#222" stroke-width="0.9" fill="none"/>
<rect x="377.35" y="428" width="10.3" height="86" fill="#5c5c5c"/>
<path d="M377.95 514V428M387.05 514V428M377.35 428.6H387.65" stroke="#141414" stroke-width="1.2" fill="none"/>
<path d="M398.3 449.4V442.3M396.4 442.3H400.2" stroke="#222" stroke-width="0.9" fill="none"/>
<rect x="393.15" y="449.4" width="10.3" height="64.6" fill="#444444"/>
<path d="M393.75 514V449.4M402.85 514V449.4M393.15 450H403.45" stroke="#141414" stroke-width="1.2" fill="none"/>
<path d="M424.8 445.4V438.6M422.9 438.6H426.7" stroke="#222" stroke-width="0.9" fill="none"/>
<rect x="419.65" y="445.4" width="10.3" height="68.6" fill="#d2d2d2"/>
<path d="M420.25 514V445.4M429.35 514V445.4M419.65 446H429.95" stroke="#141414" stroke-width="1.2" fill="none"/>
<path d="M440.6 438.6V432M438.7 432H442.5" stroke="#222" stroke-width="0.9" fill="none"/>
<rect x="435.45" y="438.6" width="10.3" height="75.4" fill="#5c5c5c"/>
<path d="M436.05 514V438.6M445.15 514V438.6M435.45 439.2H445.75" stroke="#141414" stroke-width="1.2" fill="none"/>
<path d="M456.4 428.3V424.3M454.5 424.3H458.3" stroke="#222" stroke-width="0.9" fill="none"/>
<rect x="451.25" y="428.3" width="10.3" height="85.7" fill="#444444"/>
<path d="M451.85 514V428.3M460.95 514V428.3M451.25 428.9H461.55" stroke="#141414" stroke-width="1.2" fill="none"/>
<path d="M482.9 438.9V433.3M481 433.3H484.8" stroke="#222" stroke-width="0.9" fill="none"/>
<rect x="477.75" y="438.9" width="10.3" height="75.1" fill="#d2d2d2"/>
<path d="M478.35 514V438.9M487.45 514V438.9M477.75 439.5H488.05" stroke="#141414" stroke-width="1.2" fill="none"/>
<path d="M498.7 440.1V436.4M496.8 436.4H500.6" stroke="#222" stroke-width="0.9" fill="none"/>
<rect x="493.55" y="440.1" width="10.3" height="73.9" fill="#5c5c5c"/>
<path d="M494.15 514V440.1M503.25 514V440.1M493.55 440.7H503.85" stroke="#141414" stroke-width="1.2" fill="none"/>
<path d="M514.5 446.6V440.4M512.6 440.4H516.4" stroke="#222" stroke-width="0.9" fill="none"/>
<rect x="509.35" y="446.6" width="10.3" height="67.4" fill="#444444"/>
<path d="M509.95 514V446.6M519.05 514V446.6M509.35 447.2H519.65" stroke="#141414" stroke-width="1.2" fill="none"/>
<path d="M356.3 401.3V514" stroke="#000" stroke-width="1.25" fill="none"/>
<path d="M351.3 401.3H356.3" stroke="#000" stroke-width="1.25"/>
<text x="349.8" y="404.3" font-size="9.1" class="b" text-anchor="end">1.5</text>
<path d="M351.3 438.9H356.3" stroke="#000" stroke-width="1.25"/>
<text x="349.8" y="441.9" font-size="9.1" class="b" text-anchor="end">1.0</text>
<path d="M351.3 476.4H356.3" stroke="#000" stroke-width="1.25"/>
<text x="349.8" y="479.4" font-size="9.1" class="b" text-anchor="end">0.5</text>
<path d="M351.3 514H356.3" stroke="#000" stroke-width="1.25"/>
<text x="349.8" y="517" font-size="9.1" class="b" text-anchor="end">0.0</text>
<path d="M351.3 514H526.8" stroke="#000" stroke-width="1.25"/>
<path d="M382.5 514V518.5" stroke="#000" stroke-width="1.25"/>
<text x="382.5" y="527.6" font-size="9" class="b" text-anchor="middle">5h</text>
<path d="M440.6 514V518.5" stroke="#000" stroke-width="1.25"/>
<text x="440.6" y="527.6" font-size="9" class="b" text-anchor="middle">24h</text>
<path d="M498.7 514V518.5" stroke="#000" stroke-width="1.25"/>
<text x="498.7" y="527.6" font-size="9" class="b" text-anchor="middle">48h</text>
<text transform="translate(332.77 457.8) rotate(-90)" font-size="9.25" class="b" text-anchor="middle">mRNA fold-change</text>
<text x="398.2" y="430" font-size="6.6" text-anchor="middle" class="l">b</text>
<text x="456.4" y="414.1" font-size="6.6" text-anchor="middle" class="l">a</text>
<text x="482.8" y="429.6" font-size="6.6" text-anchor="middle" class="l">A</text>
<text x="498.7" y="433.4" font-size="6.6" text-anchor="middle" class="l">A</text>
<text x="514.6" y="436.2" font-size="6.6" text-anchor="middle" class="l">B</text>
<text x="514.6" y="424.1" font-size="6.6" text-anchor="middle" class="l">ab</text>
</g>
<text x="12.9" y="10.4" font-size="15" stroke="#000" stroke-width="0.3">A</text>
<text x="69.7" y="216.1" font-size="14.3" stroke="#000" stroke-width="0.25">B</text>
<rect x="638.85" y="13.85" width="13.6" height="5.6" fill="#cfcfcf" stroke="#111" stroke-width="1.3"/>
<text x="660.8" y="20.4" font-size="11">Cntrl</text>
<rect x="638.85" y="31.75" width="13.6" height="5.6" fill="#5e5e5e" stroke="#111" stroke-width="1.3"/>
<text x="660.8" y="38.3" font-size="11">LPS</text>
<rect x="638.85" y="50.85" width="13.6" height="5.6" fill="#424242" stroke="#111" stroke-width="1.3"/>
<text x="660.8" y="55.5" font-size="11">H<tspan font-size="7.6" dy="2.6">2</tspan><tspan dy="-2.6">O</tspan><tspan font-size="7.6" dy="2.6">2</tspan></text>
</svg>
</body></html>
